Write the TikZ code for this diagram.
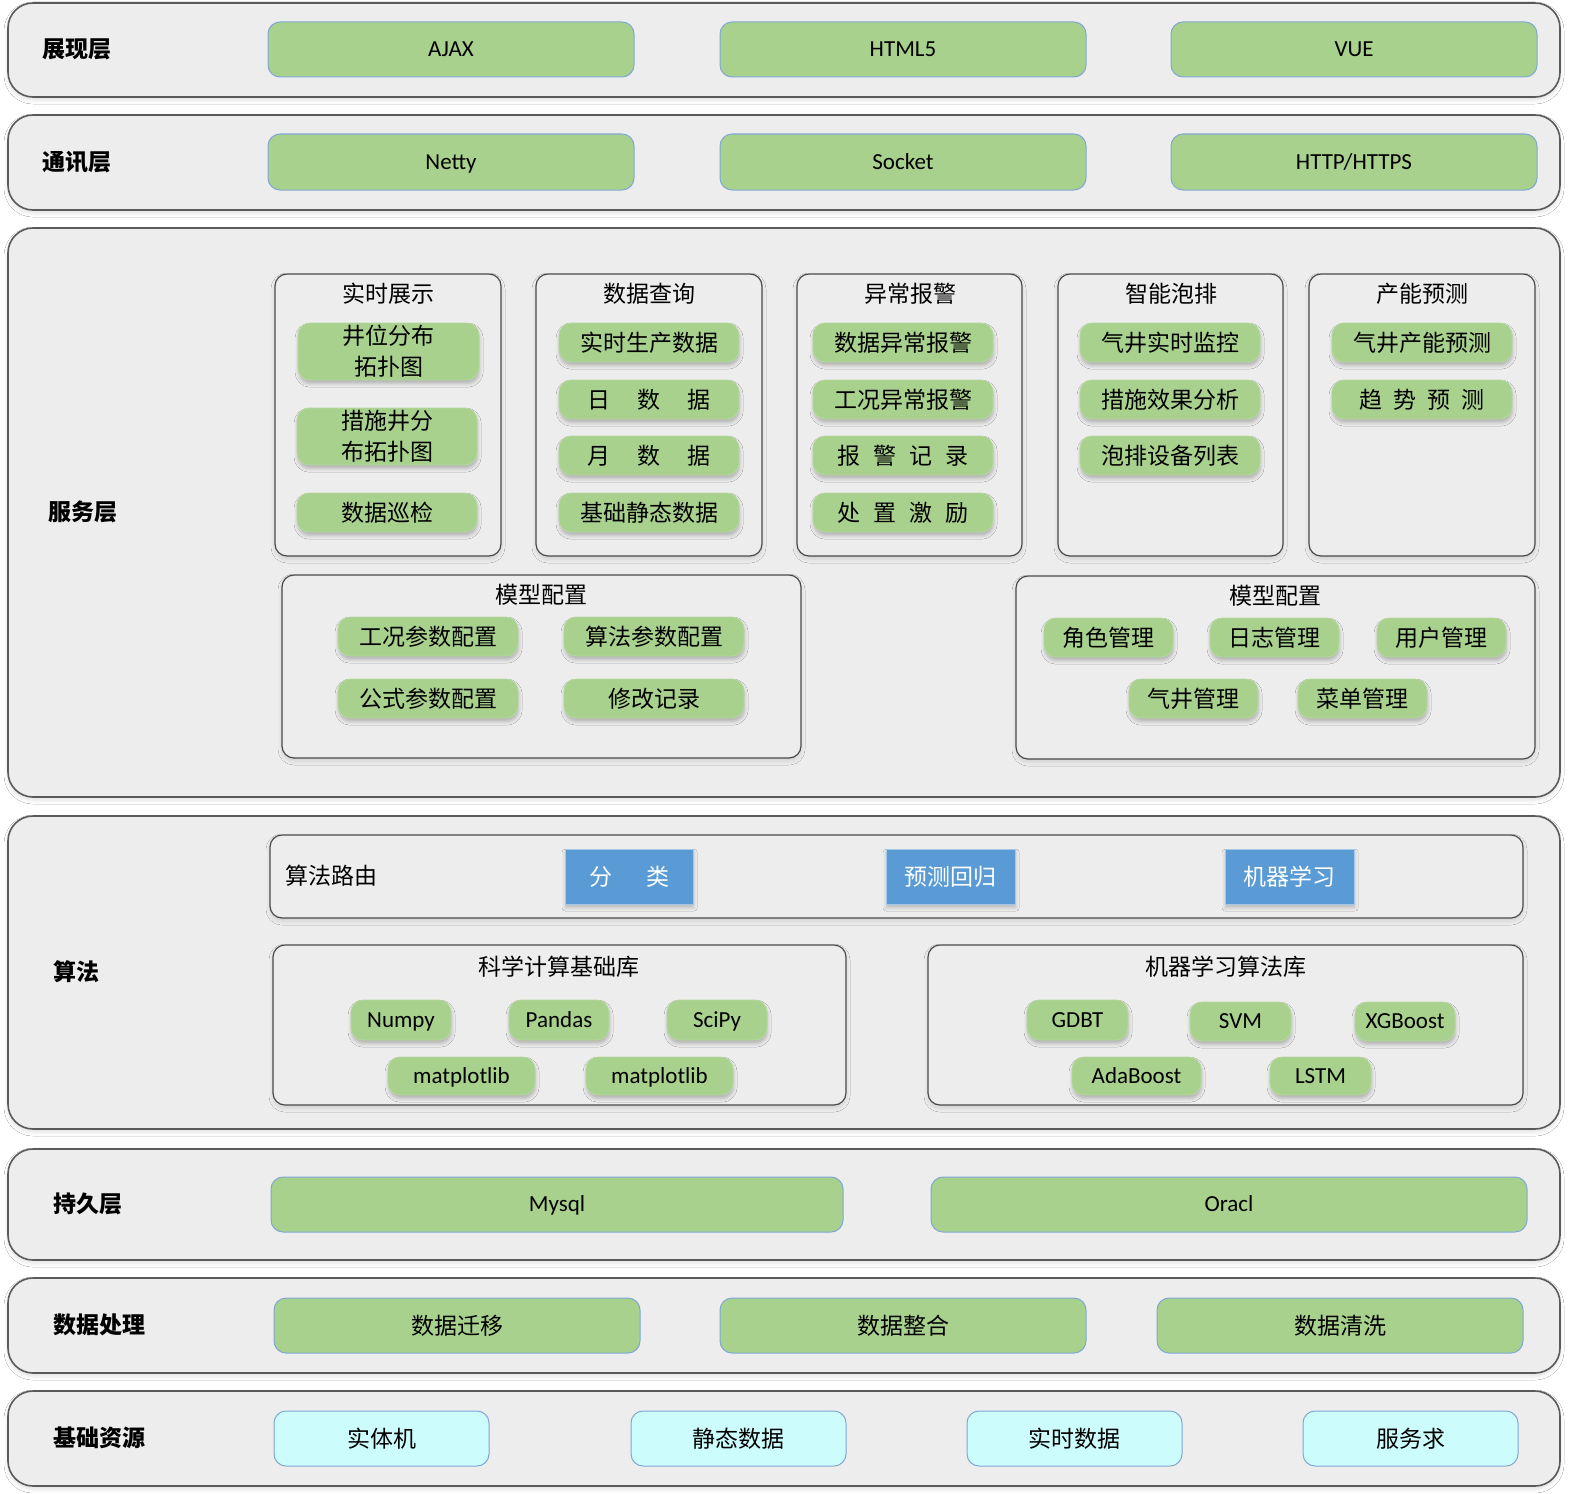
\documentclass[tikz,border=0pt]{standalone}
\usepackage{fontspec}
\setmainfont{Carlito}
\newfontfamily\cjk{Noto Sans CJK SC}
\usetikzlibrary{shadows.blur}

\definecolor{layerfill}{HTML}{EDEDED}
\definecolor{layerdraw}{HTML}{5A5A5A}
\definecolor{subdraw}{HTML}{4A4A4A}
\definecolor{leaf}{HTML}{A9D18E}
\definecolor{edgeblue}{HTML}{7FA7D4}
\definecolor{routeblue}{HTML}{5B9BD5}
\definecolor{rescyan}{HTML}{CCFCFC}

% box given by its corners in pixel units: name, style, x1, y1, x2, y2, text
\newcommand\placebox[7]{%
  \node[#2,minimum width={(#5-#3)*0.5pt},minimum height={(#6-#4)*0.5pt}]
    (#1) at ({(#3+#5)/2},{(#4+#6)/2}) {#7};}

\tikzset{
  every node/.style={inner sep=0pt,outer sep=0pt,align=center,
    font=\fontsize{11.5}{15.5}\selectfont},
  cn/.style={font=\cjk\fontsize{11.5}{15.5}\selectfont},
  lat/.style={text height=10pt,text depth=2.6pt},
  lab/.style={anchor=west,font=\cjk\bfseries\fontsize{11.5}{14}\selectfont},
  layer/.style={draw=layerdraw,line width=0.8pt,fill=layerfill,rounded corners=12.5pt,
    blur shadow={shadow xshift=0pt,shadow yshift=-1.5pt,shadow opacity=12,shadow blur radius=2pt}},
  sub/.style={draw=subdraw,line width=0.6pt,fill=layerfill,rounded corners=6pt,
    blur shadow={shadow xshift=0pt,shadow yshift=-1.5pt,shadow opacity=12,shadow blur radius=2pt}},
  big/.style={draw=edgeblue,line width=0.5pt,fill=leaf,rounded corners=6pt},
  pill/.style={draw=leaf!85!white,line width=0.4pt,fill=leaf,rounded corners=6pt,
    blur shadow={shadow xshift=0.3pt,shadow yshift=-1.8pt,shadow opacity=25,shadow blur radius=1.8pt}},
  routebox/.style={draw=routeblue!55!white,line width=0.5pt,fill=routeblue,text=white,
    blur shadow={shadow xshift=0.3pt,shadow yshift=-1.8pt,shadow opacity=22,shadow blur radius=1.8pt}},
  res/.style={draw=edgeblue,line width=0.5pt,fill=rescyan,rounded corners=6pt},
}

\begin{document}
\begin{tikzpicture}[x=0.5pt,y=-0.5pt]
\useasboundingbox[fill=white] (0,0) rectangle (1573,1493);

% ---- presentation layer
\placebox{presL}{layer}{8}{3}{1560}{97}{}
\node[lab] (presT) at (42,49) {展现层};
\placebox{ajax}{big,lat}{268}{22}{634}{77}{AJAX}
\placebox{html}{big,lat}{720}{22}{1086}{77}{HTML5}
\placebox{vue}{big,lat}{1171}{22}{1537}{77}{VUE}

% ---- communication layer
\placebox{commL}{layer}{8}{115}{1560}{210}{}
\node[lab] (commT) at (42,162) {通讯层};
\placebox{netty}{big,lat}{268}{134}{634}{190}{Netty}
\placebox{socket}{big,lat}{720}{134}{1086}{190}{Socket}
\placebox{http}{big,lat}{1171}{134}{1537}{190}{HTTP/HTTPS}

% ---- service layer
\placebox{servL}{layer}{8}{228}{1560}{797}{}
\node[lab] (servT) at (48,512) {服务层};

\placebox{sA}{sub}{275}{274}{501}{556}{}
\node[cn] (sAt) at (388,294) {实时展示};
\placebox{a1}{pill,cn}{298}{323}{479}{380}{井位分布\\拓扑图}
\placebox{a2}{pill,cn}{297}{408}{477}{465}{措施井分\\布拓扑图}
\placebox{a3}{pill,cn}{297}{493}{477}{532}{数据巡检}

\placebox{sB}{sub}{536}{274}{762}{556}{}
\node[cn] (sBt) at (649,294) {数据查询};
\placebox{b1}{pill,cn}{559}{323}{739}{362}{实时生产数据}
\placebox{b2}{pill,cn}{559}{380}{739}{419}{日\hspace{13.5pt}数\hspace{13.5pt}据}
\placebox{b3}{pill,cn}{559}{436}{739}{475}{月\hspace{13.5pt}数\hspace{13.5pt}据}
\placebox{b4}{pill,cn}{559}{493}{739}{532}{基础静态数据}

\placebox{sC}{sub}{797}{274}{1022}{556}{}
\node[cn] (sCt) at (910,294) {异常报警};
\placebox{c1}{pill,cn}{813}{323}{993}{362}{数据异常报警}
\placebox{c2}{pill,cn}{813}{380}{993}{419}{工况异常报警}
\placebox{c3}{pill,cn}{813}{436}{993}{475}{报\hspace{6.5pt}警\hspace{6.5pt}记\hspace{6.5pt}录}
\placebox{c4}{pill,cn}{813}{493}{993}{532}{处\hspace{6.5pt}置\hspace{6.5pt}激\hspace{6.5pt}励}

\placebox{sD}{sub}{1058}{274}{1283}{556}{}
\node[cn] (sDt) at (1171,294) {智能泡排};
\placebox{d1}{pill,cn}{1080}{323}{1260}{362}{气井实时监控}
\placebox{d2}{pill,cn}{1080}{380}{1260}{419}{措施效果分析}
\placebox{d3}{pill,cn}{1080}{436}{1260}{475}{泡排设备列表}

\placebox{sE}{sub}{1309}{274}{1535}{556}{}
\node[cn] (sEt) at (1422,294) {产能预测};
\placebox{e1}{pill,cn}{1332}{323}{1512}{362}{气井产能预测}
\placebox{e2}{pill,cn}{1332}{380}{1512}{419}{趋\hspace{5.5pt}势\hspace{5.5pt}预\hspace{5.5pt}测}

\placebox{sF}{sub}{282}{575}{801}{758}{}
\node[cn] (sFt) at (541,595) {模型配置};
\placebox{f1}{pill,cn}{338}{617}{518}{656}{工况参数配置}
\placebox{f2}{pill,cn}{564}{617}{744}{656}{算法参数配置}
\placebox{f3}{pill,cn}{338}{679}{518}{718}{公式参数配置}
\placebox{f4}{pill,cn}{564}{679}{744}{718}{修改记录}

\placebox{sG}{sub}{1016}{576}{1535}{759}{}
\node[cn] (sGt) at (1275,596) {模型配置};
\placebox{g1}{pill,cn}{1044}{618}{1173}{657}{角色管理}
\placebox{g2}{pill,cn}{1210}{618}{1339}{657}{日志管理}
\placebox{g3}{pill,cn}{1377}{618}{1506}{657}{用户管理}
\placebox{g4}{pill,cn}{1129}{679}{1258}{718}{气井管理}
\placebox{g5}{pill,cn}{1298}{679}{1427}{718}{菜单管理}

% ---- algorithm layer
\placebox{algL}{layer}{8}{816}{1560}{1129}{}
\node[lab] (algT) at (53,972) {算法};

\placebox{route}{sub}{270}{835}{1523}{918}{}
\node[cn,anchor=west] (routeT) at (285,876) {算法路由};
\placebox{r1}{routebox,cn}{565}{849}{693}{904}{分\hspace{17pt}类}
\placebox{r2}{routebox,cn}{886}{849}{1015}{904}{预测回归}
\placebox{r3}{routebox,cn}{1225}{849}{1354}{904}{机器学习}

\placebox{sci}{sub}{273}{945}{846}{1105}{}
\node[cn] (sciT) at (559,967) {科学计算基础库};
\placebox{p1}{pill,lat}{351}{1000}{451}{1040}{Numpy}
\placebox{p2}{pill,lat}{509}{1000}{609}{1040}{Pandas}
\placebox{p3}{pill,lat}{667}{1000}{767}{1040}{SciPy}
\placebox{p4}{pill,lat}{388}{1057}{535}{1095}{matplotlib}
\placebox{p5}{pill,lat}{586}{1057}{733}{1095}{matplotlib}

\placebox{mlb}{sub}{928}{945}{1523}{1105}{}
\node[cn] (mlbT) at (1226,967) {机器学习算法库};
\placebox{m1}{pill,lat}{1027}{1000}{1128}{1040}{GDBT}
\placebox{m2}{pill,lat}{1190}{1002}{1291}{1041}{SVM}
\placebox{m3}{pill,lat}{1355}{1002}{1455}{1041}{XGBoost}
\placebox{m4}{pill,lat}{1072}{1057}{1201}{1095}{AdaBoost}
\placebox{m5}{pill,lat}{1270}{1057}{1371}{1095}{LSTM}

% ---- persistence layer
\placebox{persL}{layer}{8}{1149}{1560}{1260}{}
\node[lab] (persT) at (53,1204) {持久层};
\placebox{mysql}{big,lat}{271}{1177}{843}{1232}{Mysql}
\placebox{oracl}{big,lat}{931}{1177}{1527}{1232}{Oracl}

% ---- data processing
\placebox{procL}{layer}{8}{1278}{1560}{1373}{}
\node[lab] (procT) at (53,1325) {数据处理};
\placebox{q1}{big,cn}{274}{1298}{640}{1353}{数据迁移}
\placebox{q2}{big,cn}{720}{1298}{1086}{1353}{数据整合}
\placebox{q3}{big,cn}{1157}{1298}{1523}{1353}{数据清洗}

% ---- base resources
\placebox{baseL}{layer}{8}{1391}{1560}{1486}{}
\node[lab] (baseT) at (53,1438) {基础资源};
\placebox{z1}{res,cn}{274}{1411}{489}{1466}{实体机}
\placebox{z2}{res,cn}{631}{1411}{846}{1466}{静态数据}
\placebox{z3}{res,cn}{967}{1411}{1182}{1466}{实时数据}
\placebox{z4}{res,cn}{1303}{1411}{1518}{1466}{服务求}
\end{tikzpicture}
\end{document}
